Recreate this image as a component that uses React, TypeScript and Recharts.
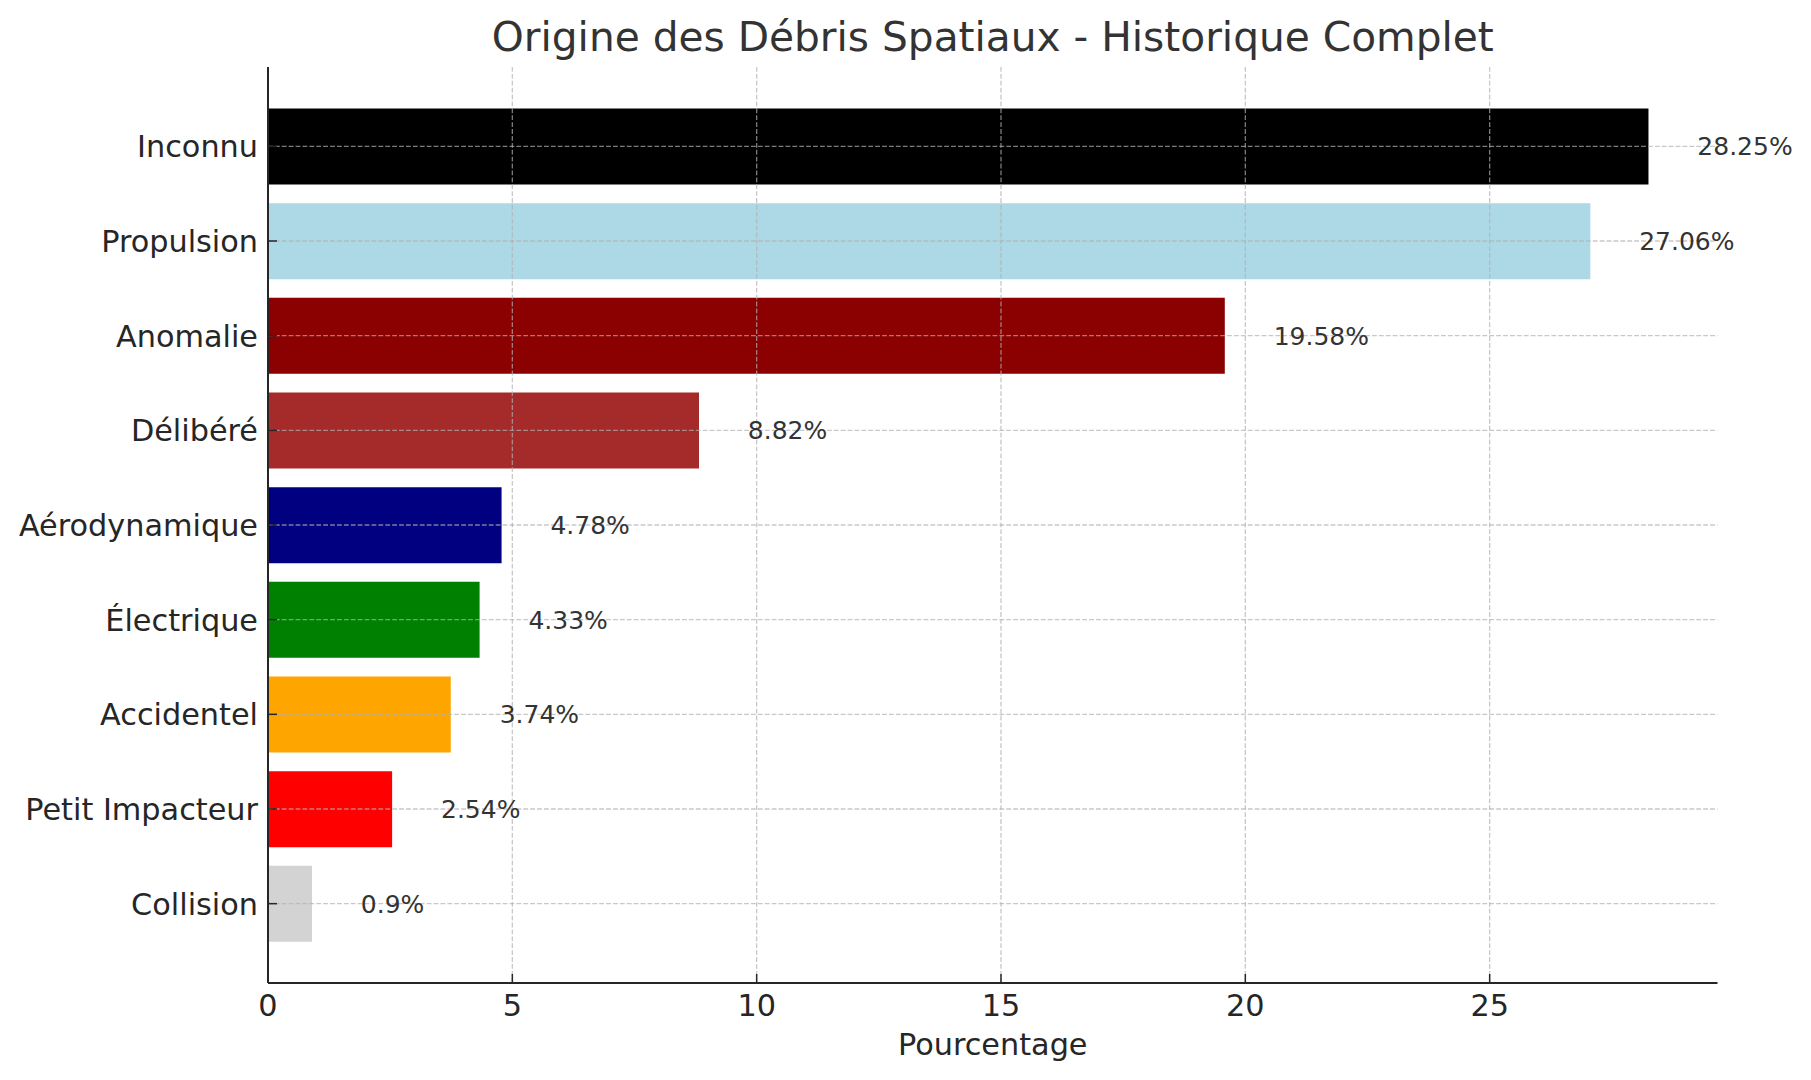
import React from "react";
import { Bar, BarChart, CartesianGrid, Cell, LabelList, Label, XAxis, YAxis } from "recharts";

const categories = [
  "Inconnu",
  "Propulsion",
  "Anomalie",
  "Délibéré",
  "Aérodynamique",
  "Électrique",
  "Accidentel",
  "Petit Impacteur",
  "Collision",
];

const percentages = [28.25, 27.06, 19.58, 8.82, 4.78, 4.33, 3.74, 2.54, 0.9];

const barColors = [
  "#000000",
  "#ADD8E6",
  "#8B0000",
  "#A52A2A",
  "#000080",
  "#008000",
  "#FFA500",
  "#FF0000",
  "#D3D3D3",
];

const xTicks = [0, 5, 10, 15, 20, 25];

const W = 1811;
const H = 1080;
const PLOT_LEFT = 268;
const PLOT_RIGHT = 1717.5;
const PLOT_TOP = 67;
const PLOT_BOTTOM = 983;
const X_MAX = Math.max(...percentages) * 1.05;
const UNIT_PX = (PLOT_RIGHT - PLOT_LEFT) / X_MAX;

const FONT = "'DejaVu Sans', sans-serif";

const data = categories.map((name, i) => ({ name, value: percentages[i], color: barColors[i] }));

function XTick(props: any) {
  const { x, y, payload } = props;
  return (
    <g>
      <line x1={x} y1={y} x2={x} y2={y - 9} stroke="#262626" strokeWidth={1.5} />
      <text x={x} y={y + 33} textAnchor="middle" fontSize={30.3} fill="#262626" fontFamily={FONT}>
        {payload.value}
      </text>
    </g>
  );
}

function YTick(props: any) {
  const { x, y, payload } = props;
  return (
    <g>
      <line x1={x} y1={y} x2={x + 9} y2={y} stroke="#262626" strokeWidth={1.5} />
      <text x={x - 10} y={y} dy="0.36em" textAnchor="end" fontSize={30.3} fill="#262626" fontFamily={FONT}>
        {payload.value}
      </text>
    </g>
  );
}

export default function App() {
  return (
    <div style={{ position: "relative", width: W, height: H, background: "#fff", fontFamily: FONT }}>
      <style>{"body{margin:0}"}</style>
      <div
        style={{
          position: "absolute",
          left: PLOT_LEFT,
          width: PLOT_RIGHT - PLOT_LEFT,
          top: 17,
          textAlign: "center",
          fontSize: 40.7,
          lineHeight: "41px",
          color: "#333333",
          whiteSpace: "nowrap",
        }}
      >
        Origine des Débris Spatiaux - Historique Complet
      </div>
      <BarChart
        width={W}
        height={H}
        data={data}
        layout="vertical"
        margin={{ top: PLOT_TOP, right: W - PLOT_RIGHT, bottom: 0, left: 0 }}
        barCategoryGap="10%"
      >
        <Bar dataKey="value" isAnimationActive={false}>
          {data.map((d) => (
            <Cell key={d.name} fill={d.color} />
          ))}
          <LabelList
            dataKey="value"
            position="right"
            offset={UNIT_PX}
            formatter={(v: any) => `${v}%`}
            fontSize={25}
            fill="#333333"
            fontFamily={FONT}
          />
        </Bar>
        <CartesianGrid
          stroke="#b0b0b0"
          strokeOpacity={0.7}
          strokeWidth={1.3}
          strokeDasharray="4.8 2.1"
          syncWithTicks
          zIndex={350}
        />
        <XAxis
          type="number"
          domain={[0, X_MAX]}
          ticks={xTicks}
          allowDataOverflow
          height={H - PLOT_BOTTOM}
          tickSize={0}
          tickMargin={0}
          tickLine={false}
          tick={<XTick />}
          axisLine={{ stroke: "#262626", strokeWidth: 2 }}
        >
          <Label
            value="Pourcentage"
            position="insideBottom"
            offset={25}
            fontSize={30.3}
            fill="#262626"
            fontFamily={FONT}
          />
        </XAxis>
        <YAxis
          type="category"
          dataKey="name"
          width={PLOT_LEFT}
          padding={{ top: 32, bottom: 32 }}
          tickSize={0}
          tickMargin={0}
          tickLine={false}
          tick={<YTick />}
          interval={0}
          axisLine={{ stroke: "#262626", strokeWidth: 2 }}
        />
      </BarChart>
    </div>
  );
}
